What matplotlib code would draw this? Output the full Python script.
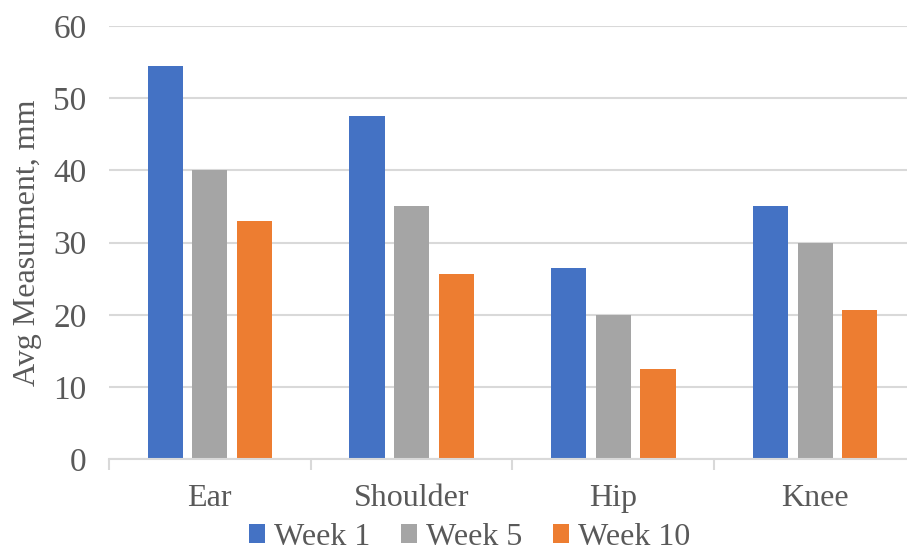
import numpy as np
import matplotlib.pyplot as plt
from matplotlib.ticker import MultipleLocator

joints = ['Ear', 'Shoulder', 'Hip', 'Knee']
week1 = [54.5, 47.5, 26.5, 35]
week5 = [40, 35, 20, 30]
week10 = [33, 25.6, 12.5, 20.7]
series_names = ['Week 1', 'Week 5', 'Week 10']

plt.rcParams['font.family'] = ['Liberation Serif', 'DejaVu Serif']
txt = '#595959'
grid = '#d9d9d9'

fig = plt.figure(figsize=(9.07, 5.52), dpi=100)
ax = fig.add_axes([0.120, 0.168, 0.890, 0.785])

x = np.arange(len(joints))
w = 0.174
off = 0.221
cols = ['#4472C4', '#A5A5A5', '#ED7D31']
for i, (vals, c, name) in enumerate(zip([week1, week5, week10], cols, series_names)):
    ax.bar(x + (i - 1) * off, vals, width=w, color=c, label=name, zorder=3)

ax.set_xlim(-0.5, len(joints) - 0.5)
ax.set_ylim(0, 60)
ax.yaxis.set_major_locator(MultipleLocator(10))
ax.grid(axis='y', color=grid, lw=1.5, zorder=0)

for s in ['top', 'right', 'left']:
    ax.spines[s].set_visible(False)
ax.spines['bottom'].set_color(grid)
ax.spines['bottom'].set_linewidth(1.5)
ax.spines['bottom'].set_zorder(4)

ax.set_xticks(x)
ax.set_xticklabels(joints)
ax.set_xticks(np.arange(-0.5, len(joints)), minor=True)
ax.tick_params(axis='x', which='major', length=0, pad=18, labelsize=23, labelcolor=txt)
ax.tick_params(axis='x', which='minor', length=8, width=1.5, color=grid)
ax.tick_params(axis='y', length=0, pad=16, labelsize=24, labelcolor=txt)

ax.set_ylabel('Avg Measurment, mm', fontsize=23, color=txt, labelpad=8)

ax.legend(loc='center', bbox_to_anchor=(0.447, -0.180), ncol=3, frameon=False,
          fontsize=23, labelcolor=txt, handlelength=0.5, handleheight=0.5,
          handletextpad=0.28, columnspacing=0.97, borderpad=0)

fig.savefig('out.png', dpi=100)
